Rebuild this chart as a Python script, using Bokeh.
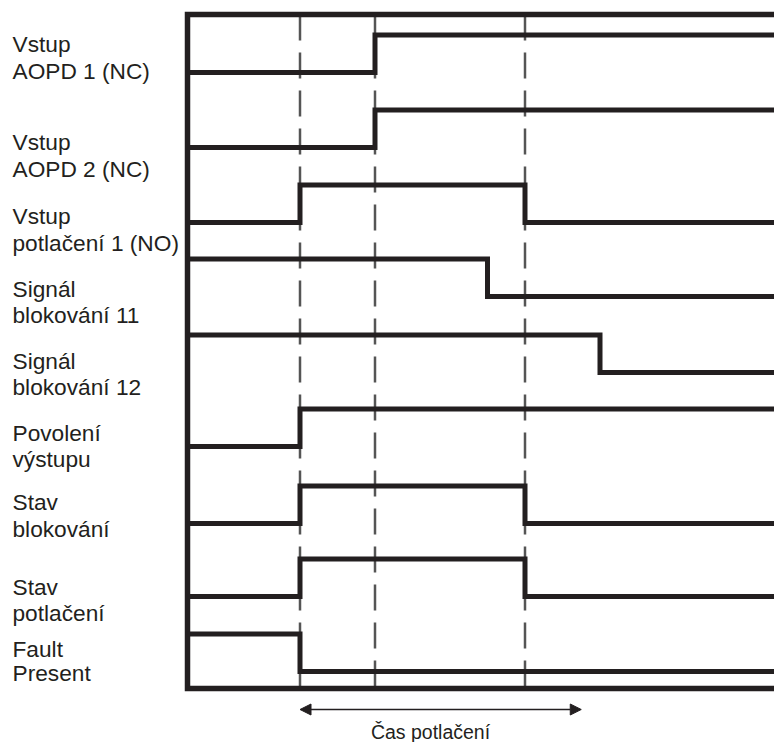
from bokeh.plotting import figure
from bokeh.models import Range1d, ColumnDataSource, Arrow, NormalHead
from bokeh.core.properties import value
from bokeh.embed import file_html
from bokeh.resources import INLINE

# ---- data (time in arbitrary units, levels 0/1) ----
label_line1 = ["Vstup", "Vstup", "Vstup", "Signál", "Signál", "Povolení", "Stav", "Stav", "Fault"]
label_line2 = ["AOPD 1 (NC)", "AOPD 2 (NC)", "potlačení 1 (NO)", "blokování 11", "blokování 12",
               "výstupu", "blokování", "potlačení", "Present"]
initial_level = [0, 0, 0, 1, 1, 0, 0, 0, 1]
transitions = [[5], [5], [3, 9], [8], [11], [3], [3, 9], [3, 9], [3]]
marker_times = [3, 5, 9]
window_start = 3
window_end = 10.5
window_label = "Čas potlačení"
t_end = 16

# ---- layout constants (pixel-like vertical positions) ----
row_low = [72, 147, 222, 296, 372, 446, 523, 596, 671]
amp = 37.5
lab1_y = [43, 141, 215, 288, 360, 432, 501, 586, 648]
lab2_y = [70, 168, 242, 314, 386, 458, 528, 612, 672]
frame_top, frame_bot = 14, 688
px_per_unit = 37.5
x_left_px = 187

W, H = 774, 742
x0 = (0 - x_left_px) / px_per_unit
x1 = x0 + W / px_per_unit

p = figure(width=W, height=H, output_backend="svg", toolbar_location=None,
           x_range=Range1d(x0, x1), y_range=Range1d(H, 0),
           min_border=0, outline_line_color=None)
p.axis.visible = False
p.grid.visible = False
p.background_fill_color = "white"

ink = "#231f20"

# dashed markers
for t in marker_times:
    p.line([t, t], [frame_top, frame_bot], line_color="#555555", line_width=2.5, line_dash="26 12")

# frame
p.line([t_end, 0, 0, t_end], [frame_top, frame_top, frame_bot, frame_bot],
       line_color=ink, line_width=5.5, line_join="miter")

# signals
for i in range(len(initial_level)):
    lvl = initial_level[i]
    xs, ys = [0], [row_low[i] - amp * lvl]
    for t in transitions[i]:
        xs.append(t); ys.append(row_low[i] - amp * lvl)
        lvl = 1 - lvl
        xs.append(t); ys.append(row_low[i] - amp * lvl)
    xs.append(t_end); ys.append(row_low[i] - amp * lvl)
    p.line(xs, ys, line_color=ink, line_width=5, line_join="miter")

# labels
src = ColumnDataSource(dict(x=[x0 + 12 / px_per_unit] * (2 * len(label_line1)),
                            y=lab1_y + lab2_y, text=label_line1 + label_line2))
p.text(x="x", y="y", text="text", source=src, text_font=value("Liberation Sans"),
       text_font_size="22.7px", text_color=ink, text_align="left", text_baseline="middle")

# window arrow
head = dict(size=11, fill_color=ink, line_color=ink)
p.add_layout(Arrow(x_start=window_start, y_start=709, x_end=window_end, y_end=709,
                   start=NormalHead(**head), end=NormalHead(**head),
                   line_color=ink, line_width=1.5))
p.text(x=[(430 - x_left_px) / px_per_unit], y=[731], text=[window_label],
       text_font=value("Liberation Sans"), text_font_size="19.5px", text_color=ink,
       text_align="center", text_baseline="middle")

open("out.html", "w").write(file_html(p, INLINE))
